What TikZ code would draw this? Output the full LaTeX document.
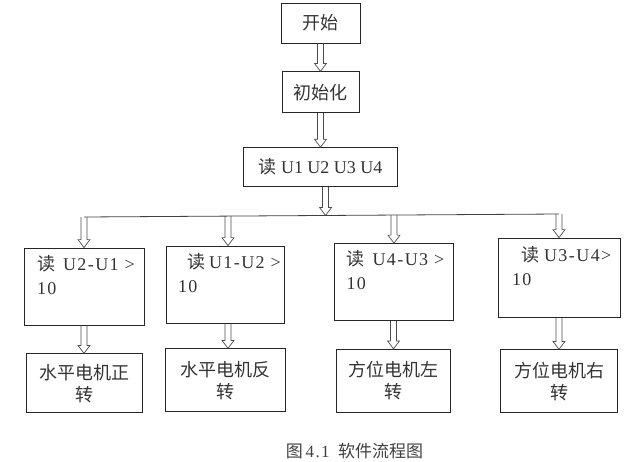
\documentclass[tikz,border=0pt]{standalone}
\usepackage{fontspec}
\setmainfont{Liberation Serif}
\newfontfamily\cjk{Noto Sans CJK SC}
\newfontfamily\rowfont[LetterSpace=8]{Liberation Serif}
\usepackage{tikz}
\usetikzlibrary{positioning, calc}
\tikzstyle{block} = [rectangle, draw=black!85, line width=0.8pt, inner sep=0pt, text=black!80, font=\fontsize{18}{22}\selectfont]
\tikzstyle{cond} = [block, text width=94pt, align=left, minimum height=77pt, font=\rowfont\fontsize{18}{24}\selectfont]
\tikzstyle{act} = [block, align=center, minimum height=62pt, font=\cjk\fontsize{18}{22}\selectfont]
\tikzstyle{branch} = [draw=black!75, line width=0.8pt]
\tikzstyle{hollow} = [draw=black!70, line width=0.7pt, to path={let \p1=(\tikztostart), \p2=(\tikztotarget) in (\x1-3pt,\y1) -- (\x1-3pt,\y2+8pt) -- (\x1-6pt,\y2+8pt) -- (\x1,\y2) -- (\x1+6pt,\y2+8pt) -- (\x1+3pt,\y2+8pt) -- (\x1+3pt,\y1)}]

\begin{document}
\begin{tikzpicture}[x=1pt, y=-1pt]
    \useasboundingbox (0,0) rectangle (640,461);
    % Main column
    
\node[block, minimum width=79pt, minimum height=40pt] (start) at (320.5,23) {\cjk 开始};
    
\node[block, minimum width=77pt, minimum height=41pt, below=28pt of start] (init) {\cjk 初始化};
    
\node[block, minimum width=154pt, minimum height=39pt, below=34pt of init] (read) {{\cjk 读} U1 U2 U3 U4};
    
    % Fork line
    \coordinate (stem) at ([xshift=5pt]read.south);
    \coordinate (fork) at (324,215.5);
    \coordinate (j1) at (84,217);
    \coordinate (j2) at (228,216);
    \coordinate (j3) at (394,215);
    \coordinate (j4) at (559,214);
    
    % Condition layer
    
\node[cond, minimum width=120pt] (b1) at (84,286.5) {\mbox{{\cjk 读}\hspace{8pt}U2-U1 >}\\10\\\mbox{}};
    
\node[cond, minimum width=118pt] (b2) at (225,284.5) {\mbox{\hspace{9pt}{\cjk 读}\hspace{4pt}U1-U2 >}\\10\\\mbox{}};
    
\node[cond, minimum width=119pt] (b3) at (393.5,282) {\mbox{{\cjk 读}\hspace{8pt}U4-U3 >}\\10\\\mbox{}};
    
\node[cond, minimum width=122pt, minimum height=79pt] (b4) at (559,277.5) {\mbox{\hspace{9pt}{\cjk 读}\hspace{5pt}U3-U4>}\\10\\\mbox{}};
    
    % Motor layer
    
\node[act, minimum width=116pt, minimum height=59pt, below=28pt of b1] (c1) {水平电机正\\转};
    
\node[act, minimum width=120pt, minimum height=63pt, below=25pt of b2] (c2) {水平电机反\\转};
    
\node[act, minimum width=114pt, minimum height=63pt, below=28pt of b3] (c3) {方位电机左\\转};
    
\node[act, minimum width=117pt, minimum height=63pt, below=32pt of b4] (c4) {方位电机右\\转};
    
    % Caption
    
\node[text=black!75, font=\fontsize{17}{20}\selectfont] (caption) at (354.5,451) {{\cjk 图}\,{\rowfont 4.1}\ \ {\cjk 软件流程图}};
    
    % Arrows
    \draw[hollow] (start.south) to (init.north);
    \draw[hollow] (init.south) to (read.north);
    \draw[hollow] (stem) to (fork);
    \draw[branch] (j1) -- (j4);
    \draw[hollow] (j1) to (b1.north);
    \draw[hollow] (j2) to (b2.north);
    \draw[hollow] (j3) to (b3.north);
    \draw[hollow] (j4) to (b4.north);
    \draw[hollow] (b1.south) to (c1.north);
    \draw[hollow] ([xshift=3pt]b2.south) to (c2.north);
    \draw[hollow] (b3.south) to (c3.north);
    \draw[hollow] (b4.south) to (c4.north);
\end{tikzpicture}
\end{document}
